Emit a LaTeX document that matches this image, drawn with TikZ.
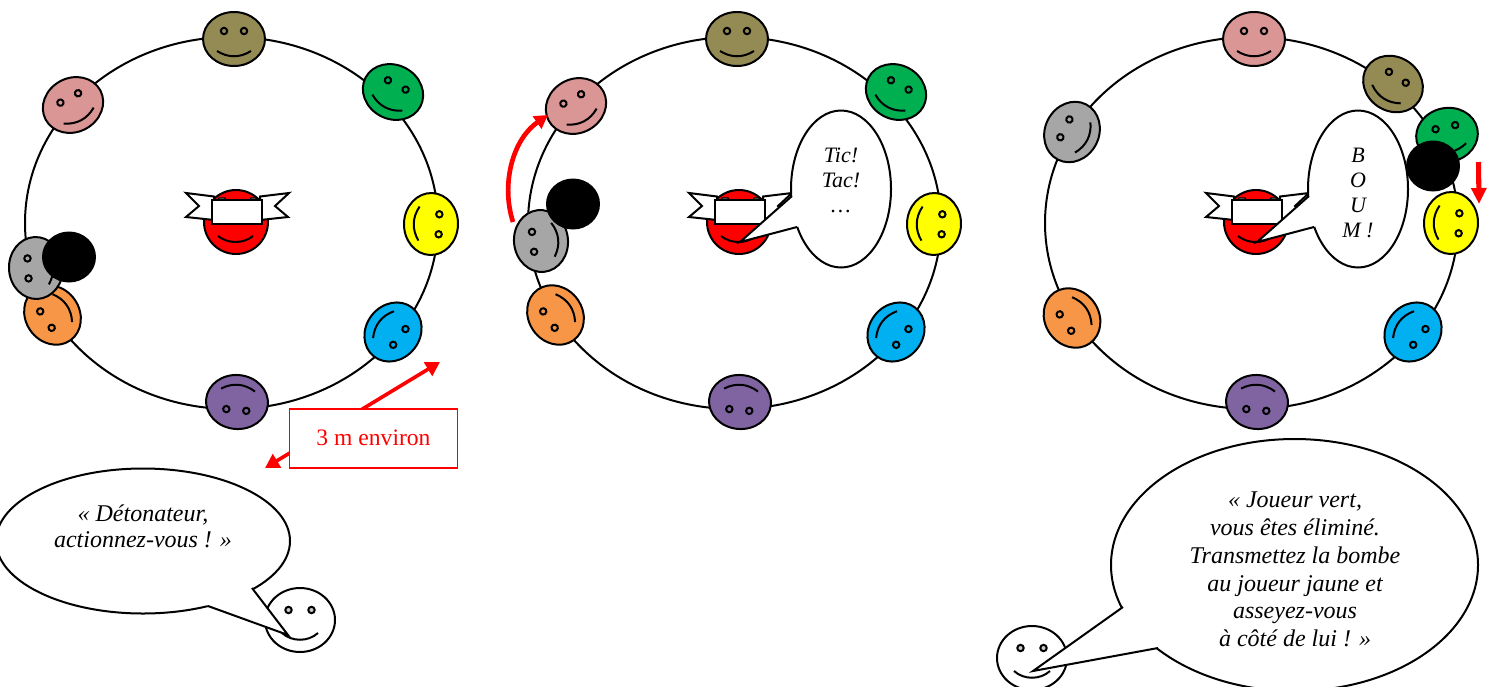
\documentclass[tikz,border=0pt]{standalone}
\usepackage{fontspec}
\setmainfont{Liberation Serif}
\usetikzlibrary{arrows.meta}
\definecolor{cOlive}{HTML}{948A54}
\definecolor{cPink}{HTML}{D99694}
\definecolor{cGreen}{HTML}{00B050}
\definecolor{cYellow}{HTML}{FFFF00}
\definecolor{cBlue}{HTML}{00B0F0}
\definecolor{cPurple}{HTML}{8064A2}
\definecolor{cOrange}{HTML}{F79646}
\definecolor{cGrey}{HTML}{A6A6A6}
\tikzset{
  line/.style={draw=black,line width=1.5pt},
  ring/.style={line},
  bombe/.style={fill=black},
  tail/.style={line,line join=miter},
  saying/.style={align=center,font=\fontsize{16.5}{18.8}\itshape\selectfont,inner sep=0pt,text=black},
  midsaying/.style={align=center,font=\fontsize{18}{19.5}\itshape\selectfont,inner sep=0pt,text=black},
  bigsaying/.style={align=center,font=\fontsize{18}{20.8}\itshape\selectfont,inner sep=0pt,text=black},
}
% centre x, centre y, clockwise rotation, colour
\newcommand\smiley[4]{%
  \begin{scope}[shift={(#1,#2)},rotate=-#3]
    \fill[#4] (0,0) ellipse [x radius=31,y radius=27];
    \draw[line] (0,0) ellipse [x radius=31,y radius=27];
    \draw[line,fill=#4] (-10,-8) circle [radius=3.2];
    \draw[line,fill=#4] (10,-8) circle [radius=3.2];
    \draw[line] (-17,12) .. controls (-6,19) and (6,19) .. (17,12);
  \end{scope}}
% the red player with his blindfold
\newcommand\blindfold{%
  \draw[line,fill=red] (236,222) circle [radius=32];
  \draw[line] (218,236) .. controls (228,244) and (243,244) .. (253,236);
  \draw[line,fill=white,line join=miter] (214,196.5) -- (186,193) -- (199,206) -- (186,217) -- (214,220) -- cycle;
  \draw[line,fill=white,line join=miter] (260,196.5) -- (289,193) -- (275,206) -- (288,217) -- (260,220) -- cycle;
  \draw[line,fill=cGrey!50,line width=1pt] (218,201) -- (219,198) -- (225,198) -- (226,201);
  \draw[line,fill=cGrey!50,line width=1pt] (250,201) -- (251,198) -- (256,198) -- (257,201);
  \draw[line,fill=white] (212,200) rectangle (262,224);
}
\newcommand\whiteface[2]{%
  \begin{scope}[shift={(#1,#2)}]
    \draw[line,fill=white] (0,0) ellipse [x radius=35,y radius=32];
    \draw[line,fill=cGrey!60] (-11.5,-10) circle [radius=3.2];
    \draw[line,fill=cGrey!60] (11.5,-10) circle [radius=3.2];
    \draw[line] (-18,13) .. controls (-8,22) and (8,22) .. (18,13);
  \end{scope}}
\begin{document}
\begin{tikzpicture}[x=0.75pt,y=-0.75pt]
\useasboundingbox (0,0) rectangle (1488,686);
\clip (0,0) rectangle (1488,686);

% ---------- panel 1 ----------
\draw[ring] (231.5,223) ellipse [x radius=206.5,y radius=186];
\smiley{234}{39}{0}{cOlive}
\smiley{393}{92}{28}{cGreen}
\smiley{431}{224}{92}{cYellow}
\smiley{393}{332}{128}{cBlue}
\smiley{237}{402}{185}{cPurple}
\smiley{52.5}{315}{235}{cOrange}
\smiley{73}{105}{-28}{cPink}
\smiley{36}{268}{267}{cGrey}
\fill[bombe] (69,257) ellipse [x radius=27,y radius=25.5];
\blindfold
\coordinate (m1) at (265,468);
\coordinate (m2) at (440,362);
\draw[draw=red,line width=2.7pt,{Triangle[length=10.5pt,width=11.5pt]}-{Triangle[length=10.5pt,width=11.5pt]}] (m1) -- (m2);
\node[name=dist,draw=red,line width=1.2pt,fill=white,text=red,minimum width=126pt,minimum height=44pt,inner sep=0pt,font=\fontsize{17.7}{20}\selectfont] at (373.5,438.5) {\raisebox{1.5pt}{3 m environ}};

% bubble 1
\whiteface{300}{620}
\fill[white] (143,541) ellipse [x radius=147,y radius=72.5];
\draw[line] (143,541) ellipse [x radius=147,y radius=72.5];
\fill[white] (252,589) -- (288,635) -- (208,606) -- (200,590) -- (240,580) -- cycle;
\draw[tail] (252,588) -- (288,635) -- (208,606);
\node[midsaying,name=say1] at (143,526.5) {« Détonateur,\\actionnez-vous ! »};

% ---------- panel 2 ----------
\draw[ring] (734.5,223) ellipse [x radius=206.5,y radius=186];
\smiley{737}{39}{0}{cOlive}
\smiley{896}{92}{28}{cGreen}
\smiley{934}{224}{92}{cYellow}
\smiley{896}{332}{128}{cBlue}
\smiley{740}{402}{185}{cPurple}
\smiley{555.5}{315}{235}{cOrange}
\smiley{576}{106}{-28}{cPink}
\smiley{541}{241}{264}{cGrey}
\fill[bombe] (573,204) ellipse [x radius=27,y radius=25.5];
\begin{scope}[xshift=377.25pt]\blindfold\end{scope}
\coordinate (t1) at (513,222);
\coordinate (t2) at (548,115);
\draw[draw=red,line width=3.5pt,-{Triangle[length=10pt,width=11pt]}] (t1) .. controls (501,185) and (512,140) .. (t2);
\fill[white] (841,189) ellipse [x radius=50,y radius=78.5];
\draw[line] (841,189) ellipse [x radius=50,y radius=78.5];
\fill[white] (792,196) -- (740,242) -- (797,227) -- (815,215) -- (810,195) -- cycle;
\draw[tail] (792,196) -- (740,242) -- (797,227);
\node[saying,name=say2] at (841,180) {Tic!\\Tac!\\…};

% ---------- panel 3 ----------
\draw[ring] (1251.5,223) ellipse [x radius=206.5,y radius=186];
\smiley{1254}{39}{0}{cPink}
\smiley{1393}{84}{33}{cOlive}
\smiley{1447}{135}{-12}{cGreen}
\smiley{1451}{223}{92}{cYellow}
\smiley{1413}{332}{128}{cBlue}
\smiley{1257}{402}{185}{cPurple}
\smiley{1072}{318}{235}{cOrange}
\smiley{1072}{132}{-63}{cGrey}
\fill[bombe] (1433,166) ellipse [x radius=27,y radius=25.5];
\begin{scope}[xshift=765pt]\blindfold\end{scope}
\coordinate (a1) at (1478.5,162);
\coordinate (a2) at (1479,204);
\draw[draw=red,line width=3.8pt,-{Triangle[length=12pt,width=11pt]}] (a1) -- (a2);
\fill[white] (1358,189) ellipse [x radius=50,y radius=78.5];
\draw[line] (1358,189) ellipse [x radius=50,y radius=78.5];
\fill[white] (1309,196) -- (1257,242) -- (1314,227) -- (1332,215) -- (1327,195) -- cycle;
\draw[tail] (1309,196) -- (1257,242) -- (1314,227);
\node[saying,name=say3] at (1358,193) {B\\O\\U\\M !};

% bubble 3
\whiteface{1032}{658}
\fill[white] (1294.5,565) ellipse [x radius=183.5,y radius=126];
\draw[line] (1294.5,565) ellipse [x radius=183.5,y radius=126];
\fill[white] (1123,607) -- (1033,671) -- (1158,648) -- (1180,620) -- (1140,590) -- cycle;
\draw[tail] (1123,607) -- (1033,671) -- (1158,648);
\node[bigsaying,name=say4] at (1295,569.5) {« Joueur vert,\\vous êtes éliminé.\\Transmettez la bombe\\au joueur jaune et\\asseyez-vous\\à côté de lui ! »};
\end{tikzpicture}
\end{document}
